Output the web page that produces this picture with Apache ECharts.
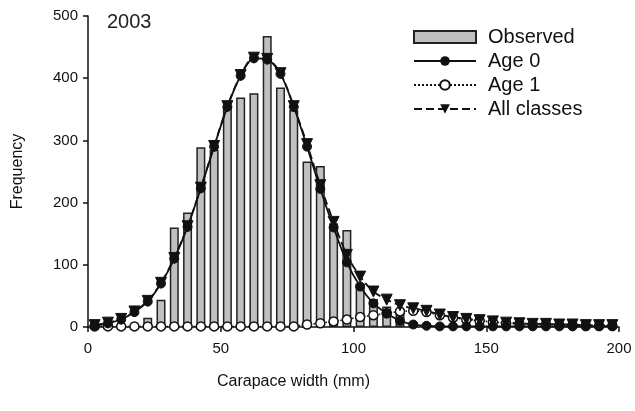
<!DOCTYPE html>
<html>
<head>
<meta charset="utf-8">
<script src="https://cdn.jsdelivr.net/npm/echarts@6/dist/echarts.min.js"></script>
<style>
  html, body { margin: 0; padding: 0; background: #fff; }
  #chart { width: 635px; height: 411px; }
</style>
</head>
<body>
<div id="chart"></div>
<script>
// bin midpoints (mm)
var binMid = [2.5, 7.5, 12.5, 17.5, 22.5, 27.5, 32.5, 37.5, 42.5, 47.5,
  52.5, 57.5, 62.5, 67.5, 72.5, 77.5, 82.5, 87.5, 92.5, 97.5,
  102.5, 107.5, 112.5, 117.5, 122.5, 127.5, 132.5, 137.5, 142.5, 147.5,
  152.5, 157.5, 162.5, 167.5, 172.5, 177.5, 182.5, 187.5, 192.5, 197.5];
var observed = [0, 0, 0, 2, 15, 44, 160, 184, 289, 285,
  355, 369, 376, 468, 385, 349, 266, 259, 167, 156,
  70, 45, 33, 28, 8, 5, 4, 3, 3, 4,
  3, 4, 3, 2, 1, 1, 0, 0, 0, 0];
var age0 = [2, 6, 12, 24, 41, 70, 110, 161, 223, 290,
  354, 404, 432, 430, 407, 354, 290, 222, 160, 104,
  65, 38, 22, 10, 4, 2, 1, 1, 1, 1,
  1, 1, 1, 1, 1, 1, 1, 1, 1, 1];
var age1 = [1, 1, 1, 1, 1, 1, 1, 1, 1, 1,
  1, 1, 1, 1, 1, 1, 4, 6, 9, 12,
  16, 19, 22, 25, 26, 24, 19, 15, 12, 10,
  8, 6, 5, 4, 4, 3, 3, 2, 2, 2];
var allClasses = [3, 7, 13, 25, 42, 71, 111, 162, 224, 291,
  355, 405, 433, 431, 408, 355, 294, 228, 169, 116,
  81, 57, 44, 35, 30, 26, 20, 16, 13, 11,
  9, 7, 6, 5, 5, 4, 4, 3, 3, 3];
var xTicks = [0, 50, 100, 150, 200];
var yTicks = [0, 100, 200, 300, 400, 500];

function pairs(vals) {
  return binMid.map(function (x, i) { return [x, vals[i]]; });
}

var font = "Liberation Sans, Arial, sans-serif";
var myChart = echarts.init(document.getElementById("chart"));

var option = {
  animation: false,
  grid: { left: 88, right: 16, top: 16, bottom: 84 },
  graphic: [{
    type: "text", left: 107, top: 12,
    style: { text: "2003", font: "20px " + font, fill: "#222" }
  }],
  legend: {
    orient: "vertical",
    left: 408, top: 22,
    itemWidth: 62, itemHeight: 12, itemGap: 4,
    textStyle: { fontSize: 20, fontFamily: font, color: "#111", padding: [0, 0, 0, 7] },
    data: [{ name: "Observed", icon: "rect" }, "Age 0", "Age 1", "All classes"]
  },
  xAxis: {
    type: "value", min: xTicks[0], max: xTicks[xTicks.length - 1], interval: 50,
    name: "Carapace width (mm)", nameLocation: "middle", nameGap: 47,
    nameTextStyle: { fontSize: 16, fontFamily: font, color: "#111", padding: [0, 120, 0, 0] },
    axisLine: { lineStyle: { color: "#111", width: 1.5 } },
    axisTick: { length: 5, lineStyle: { color: "#111", width: 1.5 } },
    axisLabel: { fontSize: 15, fontFamily: font, color: "#111", margin: 14 },
    splitLine: { show: false }
  },
  yAxis: {
    type: "value", min: yTicks[0], max: yTicks[yTicks.length - 1], interval: 100,
    name: "Frequency", nameLocation: "middle", nameGap: 62,
    nameTextStyle: { fontSize: 16, fontFamily: font, color: "#111" },
    axisLine: { show: true, lineStyle: { color: "#111", width: 1.5 } },
    axisTick: { show: true, length: 5, lineStyle: { color: "#111", width: 1.5 } },
    axisLabel: { fontSize: 15, fontFamily: font, color: "#111", margin: 10 },
    splitLine: { show: false }
  },
  series: [
    {
      name: "Observed", type: "bar", barWidth: 9,
      data: pairs(observed),
      itemStyle: { color: "#c0c0c0", borderColor: "#222", borderWidth: 1.5 }
    },
    {
      name: "Age 1", type: "line", data: pairs(age1),
      symbol: "circle", symbolSize: 9,
      itemStyle: { color: "#fff", borderColor: "#111", borderWidth: 1.5 },
      lineStyle: { color: "#111", width: 1.5, type: "dotted" }
    },
    {
      name: "Age 0", type: "line", data: pairs(age0), smooth: 0.3,
      symbol: "circle", symbolSize: 9,
      itemStyle: { color: "#111", borderColor: "#111" },
      lineStyle: { color: "#111", width: 1.8 }
    },
    {
      name: "All classes", type: "line", data: pairs(allClasses), smooth: 0.3,
      symbol: "triangle", symbolRotate: 180, symbolSize: 11,
      itemStyle: { color: "#111", borderColor: "#111" },
      lineStyle: { color: "#111", width: 1.8, type: [8, 4] }
    }
  ]
};
myChart.setOption(option);
window.addEventListener("resize", function () {
  myChart.resize();
});
</script>
</body>
</html>
